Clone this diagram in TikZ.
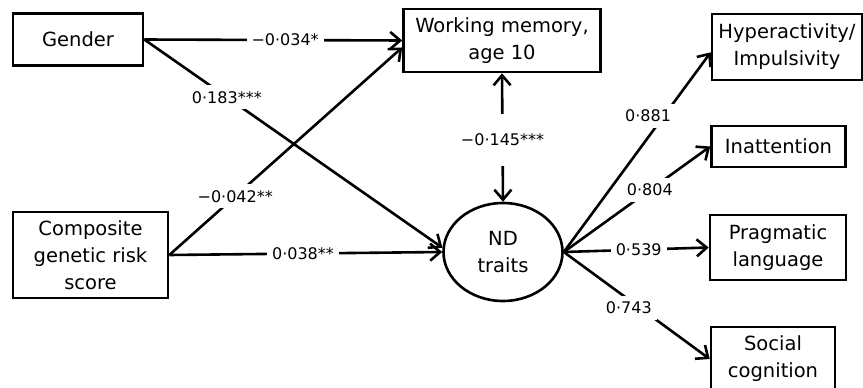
\documentclass[tikz,border=0pt]{standalone}
\usepackage{fontspec}
\setmainfont{DejaVu Sans}
\usetikzlibrary{arrows.meta,shapes.geometric}
\begin{document}
\begin{tikzpicture}[x=1pt,y=-1pt,
  box/.style={draw, line width=2.6pt, align=center, font=\fontsize{19.5}{27}\selectfont, inner sep=0pt},
  tipb/.tip={Straight Barb[length=10pt,width=17pt,line width=2.6pt]},
  conn/.style={line width=2.6pt, -tipb},
  lab/.style={fill=white, font=\fontsize{16}{18}\selectfont, inner xsep=5pt, inner ysep=6pt}]
\useasboundingbox (0,0) rectangle (863,388);
\node[box, minimum width=130pt, minimum height=52pt] (gender) at (78,39.5) {Gender};
\node[box, minimum width=197pt, minimum height=63pt] (wm) at (502,40.5) {Working memory,\\age 10};
\node[box, minimum width=155pt, minimum height=86pt] (comp) at (90.5,255) {Composite\\genetic risk\\score};
\node[box, ellipse, minimum width=119pt, minimum height=98pt] (nd) at (503,252) {ND\\traits};
\node[box, minimum width=150pt, minimum height=66pt] (hyp) at (787,47) {Hyperactivity/\\Impulsivity};
\node[box, minimum width=134pt, minimum height=41pt] (inat) at (778.5,146.5) {Inattention};
\node[box, minimum width=136pt, minimum height=65pt] (prag) at (778,247.5) {Pragmatic\\language};
\node[box, minimum width=124pt, minimum height=64pt] (soc) at (773,359) {Social\\cognition};

\draw[conn] (gender.east) -- node[lab,pos=0.546]{−0·034*} (wm.west);
\draw[conn] (gender.east) -- node[lab,pos=0.277]{0·183***} (nd.176);
\draw[conn] (comp.east) -- node[lab,pos=0.283]{−0·042**} (wm.184);
\draw[conn] (comp.east) -- node[lab,pos=0.49]{0·038**} (nd.west);
\draw[line width=2.6pt, tipb-tipb] (wm.south) -- node[lab, inner ysep=20pt, pos=0.52]{−0·145***} (nd.north);

\draw[conn] (nd.east) -- node[lab,pos=0.683,xshift=-16pt]{0·881} (hyp.184);
\draw[conn] (nd.east) -- node[lab,pos=0.588]{0·804} (inat.west);
\draw[conn] (nd.east) -- node[lab,pos=0.517]{0·539} (prag.west);
\draw[conn] (nd.east) -- node[lab,pos=0.446,yshift=-8pt]{0·743} (soc.west);
\end{tikzpicture}
\end{document}
